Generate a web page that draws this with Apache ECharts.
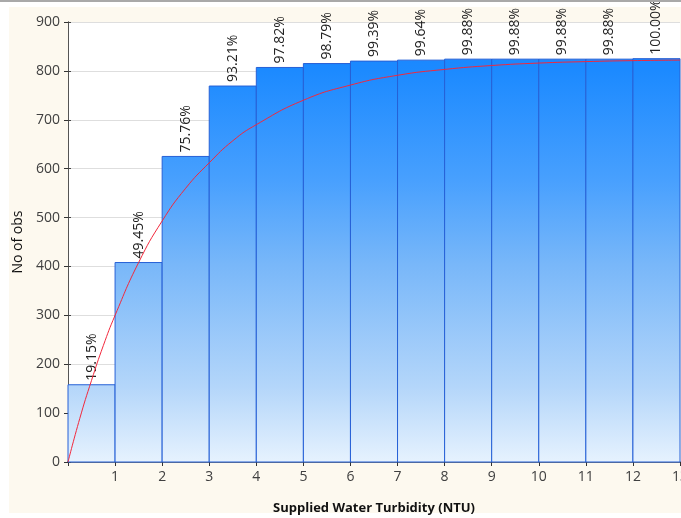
<!DOCTYPE html>
<html>
<head>
<meta charset="utf-8">
<script src="https://cdn.jsdelivr.net/npm/echarts@6/dist/echarts.min.js"></script>
<style>
  html, body { margin: 0; padding: 0; background: #fff; }
  #chart { width: 681px; height: 518px; }
</style>
</head>
<body>
<div id="chart"></div>
<script>
// histogram bins (NTU), cumulative counts and the percent labels above them
var binStart = [0, 1, 2, 3, 4, 5, 6, 7, 8, 9, 10, 11, 12]
var binEnd = [1, 2, 3, 4, 5, 6, 7, 8, 9, 10, 11, 12, 13]
var cumCounts = [158, 408, 625, 769, 807, 815, 820, 822, 824, 824, 824, 824, 825]
var pctLabels = ['19.15%', '49.45%', '75.76%', '93.21%', '97.82%', '98.79%', '99.39%',
  '99.64%', '99.88%', '99.88%', '99.88%', '99.88%', '100.00%']

// fitted curve
var curveX = [0, 0.25, 0.5, 0.75, 1, 1.5, 2, 2.5, 3, 3.5, 4, 5, 6, 7, 8, 9, 10, 11, 12, 13]
var curveY = [0, 89, 167, 238, 300, 408, 493, 560, 612, 657, 690, 740, 771, 791, 803, 811, 816, 819, 821, 822]

var yTicks = { min: 0, max: 900, interval: 100 }

var chart = echarts.init(document.getElementById('chart'))

var barFill = new echarts.graphic.LinearGradient(0, 22, 0, 462, [
  { offset: 0, color: '#1482ff' },
  { offset: 0.11, color: '#1c8aff' },
  { offset: 0.36, color: '#48a0fe' },
  { offset: 0.55, color: '#78b7f9' },
  { offset: 0.83, color: '#b4d6fa' },
  { offset: 1, color: '#e6f2fe' }
], true)

var barData = binStart.map(function (s, i) {
  return [s, binEnd[i], cumCounts[i]]
})
var curveData = curveX.map(function (x, i) {
  return [x, curveY[i]]
})

var axisFont = { fontFamily: 'Open Sans', fontSize: 14, color: '#404040' }

chart.setOption({
  backgroundColor: '#fff',
  animation: false,
  graphic: [
    { type: 'rect', z: -100, silent: true, shape: { x: 9, y: 7, width: 680, height: 506 }, style: { fill: '#fdf9ef' } },
    { type: 'rect', z: 100, silent: true, shape: { x: 0, y: 0, width: 681, height: 2 }, style: { fill: '#a9a9a9' } }
  ],
  grid: {
    left: 68,
    top: 22,
    right: 1,
    bottom: 56,
    outerBoundsMode: 'none',
    containLabel: false,
    show: true,
    backgroundColor: '#fff',
    borderWidth: 0
  },
  xAxis: [{
    type: 'value',
    min: 0,
    max: 13,
    interval: 1,
    name: 'Supplied Water Turbidity (NTU)',
    nameLocation: 'middle',
    nameGap: 40,
    nameTextStyle: { fontFamily: 'Open Sans', fontSize: 13, fontWeight: 'bold', color: '#111' },
    axisLine: { lineStyle: { color: '#8a8a8a', width: 2 } },
    axisTick: { show: false },
    axisLabel: Object.assign({ margin: 8, showMinLabel: false, hideOverlap: false }, axisFont),
    splitLine: { show: false }
  }, {
    type: 'value',
    position: 'top',
    min: 0,
    max: 13,
    interval: 1,
    axisLine: { lineStyle: { color: '#707070' } },
    axisTick: { inside: true, length: 4, lineStyle: { color: '#333' } },
    axisLabel: { show: false },
    splitLine: { show: false }
  }],
  yAxis: [{
    type: 'value',
    min: yTicks.min,
    max: yTicks.max,
    interval: yTicks.interval,
    name: 'No of obs',
    nameLocation: 'middle',
    nameGap: 42,
    nameRotate: 90,
    nameTextStyle: { fontFamily: 'Open Sans', fontSize: 14, color: '#111' },
    axisLine: { show: true, lineStyle: { color: '#444' } },
    axisTick: { inside: true, length: 3, lineStyle: { color: '#444' } },
    axisLabel: Object.assign({ margin: 8 }, axisFont),
    splitLine: { lineStyle: { color: '#dedede' } }
  }, {
    type: 'value',
    position: 'right',
    min: yTicks.min,
    max: yTicks.max,
    interval: yTicks.interval,
    axisLine: { show: true, lineStyle: { color: '#555' } },
    axisTick: { inside: true, length: 4, lineStyle: { color: '#333' } },
    axisLabel: { show: false },
    splitLine: { show: false }
  }],
  series: [{
    type: 'custom',
    z: 2,
    data: barData,
    encode: { x: [0, 1], y: 2 },
    renderItem: function (params, api) {
      var p0 = api.coord([api.value(0), api.value(2)])
      var p1 = api.coord([api.value(1), 0])
      return {
        type: 'group',
        children: [{
          type: 'rect',
          shape: { x: p0[0], y: p0[1], width: p1[0] - p0[0], height: p1[1] - p0[1] },
          style: { fill: barFill, stroke: '#2660d6', lineWidth: 1 }
        }, {
          type: 'text',
          x: (p0[0] + p1[0]) / 2,
          y: p0[1] - 4,
          rotation: Math.PI / 2,
          style: {
            text: pctLabels[params.dataIndex],
            align: 'left',
            verticalAlign: 'middle',
            fontFamily: 'Open Sans',
            fontSize: 14,
            fill: '#222'
          }
        }]
      }
    }
  }, {
    type: 'line',
    z: 5,
    data: curveData,
    smooth: true,
    symbol: 'none',
    lineStyle: { color: '#f2283c', width: 1 }
  }]
})
</script>
</body>
</html>
